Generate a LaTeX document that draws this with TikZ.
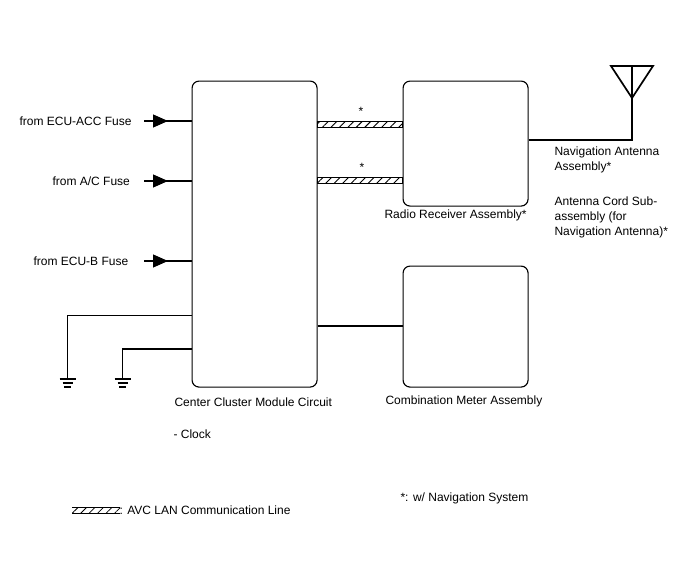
\documentclass[tikz,border=0pt]{standalone}
\usepackage{fontspec}
\setmainfont{Liberation Sans}
\usetikzlibrary{arrows.meta,patterns.meta}
\begin{document}
\begin{tikzpicture}[x=1pt,y=-1pt,line width=1.15pt,
    unit box/.style={draw,rounded corners=7pt,minimum width=125pt,anchor=north west},
    label node/.style={font=\fontsize{12}{15}\selectfont,inner sep=0pt,anchor=base west},
    note node/.style={font=\fontsize{12}{15}\selectfont,inner sep=0pt,anchor=north west,align=left},
    fuse tip/.style={-{Triangle[length=15pt,width=13pt]}},
    avc line/.style={draw,line width=1pt,pattern={Lines[angle=45,distance=6pt,line width=0.9pt]}}]

                    \useasboundingbox (0,0) rectangle (688,560);

                    \node[unit box,minimum height=306pt] (center) at (191.5,80.5) {};
                    \node[unit box,minimum height=125pt] (radio) at (402.5,80.5) {};
                    \node[unit box,minimum height=121pt] (meter) at (402.5,265.5) {};

                    \node[label node] (acc) at (19,125) {from ECU-ACC Fuse};
                    \node[label node] (ac) at (52,185) {from A/C Fuse};
                    \node[label node] (ecub) at (33,265) {from ECU-B Fuse};
                    \node[label node] (radiotext) at (384,218) {Radio Receiver Assembly*};
                    \node[label node] (metertext) at (385,404) {Combination Meter Assembly};
                    \node[label node] (centertext) at (174,406) {Center Cluster Module Circuit};
                    \node[label node] (clock) at (173,438) {- Clock};
                    \node[label node] (star) at (400,501) {*: w/ Navigation System};
                    \node[label node] (avctext) at (119,514) {: AVC LAN Communication Line};
                    \node[label node] (star1) at (358,115) {*};
                    \node[label node] (star2) at (359,171) {*};
                    \node[note node] (navtext) at (554,146) {Navigation Antenna\\Assembly*};
                    \node[note node] (cordtext) at (554,196) {Antenna Cord Sub-\\assembly (for\\Navigation Antenna)*};

                    \coordinate (in1) at (144,121);
                    \coordinate (in2) at (144,181);
                    \coordinate (in3) at (144,261);
                    \coordinate (gnd1) at (67.5,379);
                    \coordinate (gnd2) at (122.5,379);
                    \coordinate (ant) at (632,66);

                    \draw (in1) -- (in1 -| center.west);
                    \draw (in2) -- (in2 -| center.west);
                    \draw (in3) -- (in3 -| center.west);
                    \foreach \i in {in1,in2,in3}
                        \draw[fuse tip] (\i) -- ++(24,0);

                    \draw (center.west |- 0,315.5) -| (gnd1);
                    \draw (center.west |- 0,349) -| (gnd2);
                    \foreach \g in {gnd1,gnd2} {
                        \draw (\g) ++(-8,0) -- ++(16,0);
                        \draw (\g) ++(-5,4) -- ++(10,0);
                        \draw (\g) ++(-3.5,8) -- ++(7,0);
                    }

                    \draw[avc line] (center.east |- 0,121) rectangle (radio.west |- 0,127);
                    \draw[avc line] (center.east |- 0,177.5) rectangle (radio.west |- 0,183.5);
                    \draw (center.east |- 0,326) -- (meter.west |- 0,326);

                    \draw (radio.east |- 0,140) -| (ant);
                    \draw[line width=1.7pt] (ant) ++(-21,0) -- ++(42,0) -- (632,98) -- cycle;

                    \path[pattern={Lines[angle=45,distance=6pt,line width=0.8pt]}] (72,507) rectangle (120,513);
                    \draw[line width=0.8pt] (72,507) -- (120,507) (72,513) -- (120,513);

                \end{tikzpicture}
\end{document}
